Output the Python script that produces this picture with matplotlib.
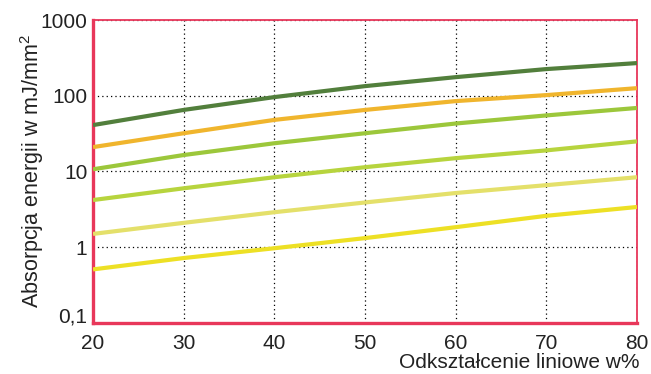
import matplotlib.pyplot as plt
from matplotlib.ticker import FixedLocator, FixedFormatter

plt.rcParams['font.family'] = ['Liberation Sans', 'DejaVu Sans']
plt.rcParams['mathtext.fontset'] = 'custom'
plt.rcParams['mathtext.rm'] = 'Liberation Sans'
plt.rcParams['mathtext.it'] = 'Liberation Sans'

strain = [20, 30, 40, 50, 60, 70, 80]

# energy absorption curves, mJ/mm^2
curve_a = [41, 65, 96, 134, 176, 225, 270]
curve_b = [21, 32, 48, 65, 85, 102, 126]
curve_c = [10.7, 16.5, 23.6, 32, 43, 55, 69]
curve_d = [4.2, 6.0, 8.4, 11.4, 15, 19, 25]
curve_e = [1.5, 2.1, 2.9, 3.9, 5.2, 6.6, 8.4]
curve_f = [0.51, 0.72, 0.97, 1.32, 1.84, 2.6, 3.4]

curves = [curve_a, curve_b, curve_c, curve_d, curve_e, curve_f]
colors = ['#527f3c', '#f0b52d', '#9cc73b', '#b7d43e', '#e4e06a', '#ede025']

y_ticks = [0.1, 1, 10, 100, 1000]
y_labels = ['0,1', '1', '10', '100', '1000']
x_ticks = [20, 30, 40, 50, 60, 70, 80]

fig = plt.figure(figsize=(6.51, 3.74), dpi=100)
ax = fig.add_axes([0.1429, 0.1364, 0.8356, 0.8101])

for vals, c in zip(curves, colors):
    ax.plot(strain, vals, color=c, lw=3, solid_capstyle='butt', zorder=3)

ax.set_yscale('log')
ax.set_xlim(20, 80)
ax.set_ylim(0.1, 1000)
ax.yaxis.set_major_locator(FixedLocator(y_ticks))
ax.yaxis.set_major_formatter(FixedFormatter(y_labels))
ax.yaxis.set_minor_locator(FixedLocator([]))
ax.set_xticks(x_ticks)
ax.tick_params(length=0, labelsize=15, colors='#222222')
ax.tick_params(axis='y', pad=4)
ax.tick_params(axis='x', pad=8)

# sit the bottom label on the axis line so it clears the "20"
ax.get_yticklabels()[0].set_verticalalignment('baseline')

ax.grid(True, color='black', ls=(0, (1, 2.5)), lw=0.9)

red = '#e8375a'
for side in ['left', 'bottom']:
    ax.spines[side].set_color(red)
    ax.spines[side].set_linewidth(2.4)
for side in ['top', 'right']:
    ax.spines[side].set_color(red)
    ax.spines[side].set_linewidth(1.3)

ax.set_ylabel('Absorpcja energii w mJ/mm$^{2}$', fontsize=15.5, color='#222222')
ax.yaxis.set_label_coords(-0.087, 0.5)
ax.text(1.005, -0.13, 'Odkształcenie liniowe w%', transform=ax.transAxes,
        ha='right', va='center', fontsize=15, color='#222222')

fig.savefig('out.png', dpi=100)
